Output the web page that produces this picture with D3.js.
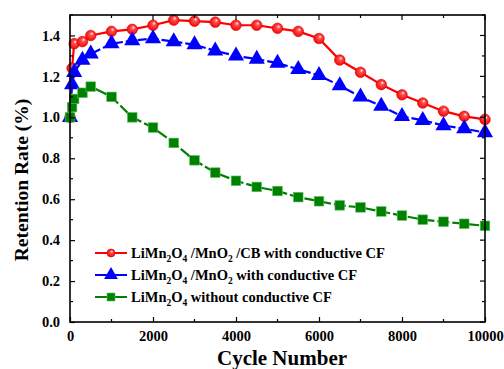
<!DOCTYPE html>
<html>
<head lang="en">
    <meta charset="UTF-8">
    <script src="https://cdn.jsdelivr.net/npm/d3@7/dist/d3.min.js"></script>
    <style>
        body { margin: 0; background: #fff; }
    </style>
</head>
<body>
<div id="chart"></div>
<script>
    // cycle numbers + retention values
    var cbCycles  = [0, 50, 100, 300, 500, 1000, 1500, 2000, 2500, 3000, 3500, 4000, 4500, 5000, 5500, 6000, 6500, 7000, 7500, 8000, 8500, 9000, 9500, 10000];
    var cbValues  = [1.0, 1.24, 1.36, 1.37, 1.40, 1.42, 1.43, 1.45, 1.475, 1.47, 1.465, 1.45, 1.45, 1.435, 1.42, 1.385, 1.28, 1.22, 1.16, 1.11, 1.07, 1.03, 1.005, 0.99];
    var mnCycles  = [0, 50, 100, 300, 500, 1000, 1500, 2000, 2500, 3000, 3500, 4000, 4500, 5000, 5500, 6000, 6500, 7000, 7500, 8000, 8500, 9000, 9500, 10000];
    var mnValues  = [1.0, 1.16, 1.22, 1.28, 1.31, 1.36, 1.375, 1.385, 1.37, 1.355, 1.325, 1.30, 1.285, 1.265, 1.235, 1.205, 1.155, 1.10, 1.055, 1.005, 0.985, 0.96, 0.945, 0.925];
    var rawCycles = [0, 50, 100, 300, 500, 1000, 1500, 2000, 2500, 3000, 3500, 4000, 4500, 5000, 5500, 6000, 6500, 7000, 7500, 8000, 8500, 9000, 9500, 10000];
    var rawValues = [1.0, 1.05, 1.09, 1.12, 1.15, 1.10, 1.00, 0.95, 0.875, 0.79, 0.73, 0.69, 0.66, 0.64, 0.61, 0.59, 0.57, 0.56, 0.54, 0.52, 0.50, 0.49, 0.48, 0.47];

    var xTicks = [0, 2000, 4000, 6000, 8000, 10000];
    var yTicks = [0.0, 0.2, 0.4, 0.6, 0.8, 1.0, 1.2, 1.4];

    var W = 504, H = 369;
    var margin = {left: 70, right: 19, top: 15, bottom: 47};
    var FONT = "'Liberation Serif', 'Times New Roman', serif";

    var svg = d3.select("#chart").append("svg").attr("width", W).attr("height", H)
        .attr("font-family", FONT).attr("font-weight", "bold");

    var defs = svg.append("defs");
    var grad = defs.append("radialGradient").attr("id", "ball")
        .attr("cx", "50%").attr("cy", "50%").attr("r", "55%")
        .attr("fx", "62%").attr("fy", "30%");
    grad.append("stop").attr("offset", "0%").attr("stop-color", "#ffffff");
    grad.append("stop").attr("offset", "30%").attr("stop-color", "#ff5050");
    grad.append("stop").attr("offset", "100%").attr("stop-color", "#f00000");

    var x = d3.scaleLinear().domain([0, 10000]).range([margin.left, W - margin.right]);
    var y = d3.scaleLinear().domain([0, 1.5]).range([H - margin.bottom, margin.top]);

    var series = [
        {cycles: cbCycles, values: cbValues, color: "#ff0000", marker: "circle", dash: null,
            label: [["LiMn", ""], ["2", "sub"], ["O", ""], ["4", "sub"], [" /MnO", ""], ["2", "sub"], [" /CB with conductive CF", ""]]},
        {cycles: mnCycles, values: mnValues, color: "#0000ff", marker: "triangle", dash: "9,3",
            label: [["LiMn", ""], ["2", "sub"], ["O", ""], ["4", "sub"], [" /MnO", ""], ["2", "sub"], [" with conductive CF", ""]]},
        {cycles: rawCycles, values: rawValues, color: "#008000", marker: "square", dash: "12,3",
            label: [["LiMn", ""], ["2", "sub"], ["O", ""], ["4", "sub"], [" without conductive CF", ""]]}
    ];

    function drawMarker(sel, type, color, s) {
        if (type === "circle") {
            sel.append("circle").attr("r", s).attr("fill", "url(#ball)")
                .attr("stroke", "#e00000").attr("stroke-width", 0.6);
        } else if (type === "triangle") {
            sel.append("path").attr("d", d3.symbol().type(d3.symbolTriangle).size(s * s * 2.3))
                .attr("fill", color);
        } else {
            sel.append("rect").attr("x", -s).attr("y", -s).attr("width", 2 * s).attr("height", 2 * s)
                .attr("fill", color).attr("stroke", "#5fbf5f").attr("stroke-width", 0.6);
        }
    }

    var line = d3.line().x(function(d) { return x(d[0]); }).y(function(d) { return y(d[1]); });

    // red first, green last (green sits on top at the start)
    var sizes = {circle: 5.3, triangle: 7, square: 4.8};
    series.forEach(function(s) {
        var pts = s.cycles.map(function(c, i) { return [c, s.values[i]]; });
        svg.append("path").datum(pts).attr("d", line)
            .attr("fill", "none").attr("stroke", s.color).attr("stroke-width", 2.2)
            .attr("stroke-dasharray", s.dash);
        svg.append("g").selectAll("g").data(pts).enter().append("g")
            .attr("transform", function(d) { return "translate(" + x(d[0]) + "," + y(d[1]) + ")"; })
            .each(function() { drawMarker(d3.select(this), s.marker, s.color, sizes[s.marker]); });
    });

    // frame
    var x0 = margin.left, x1 = W - margin.right, y0 = H - margin.bottom, y1 = margin.top;
    svg.append("rect").attr("x", x0).attr("y", y1).attr("width", x1 - x0).attr("height", y0 - y1)
        .attr("fill", "none").attr("stroke", "#000").attr("stroke-width", 1.6);

    // axes with inward ticks
    var xAxis = d3.axisBottom(x).tickValues(xTicks).tickSize(-5).tickPadding(9)
        .tickFormat(d3.format("d"));
    var xg = svg.append("g").attr("transform", "translate(0," + y0 + ")").call(xAxis);
    var yAxis = d3.axisLeft(y).tickValues(yTicks).tickSize(-5).tickPadding(10)
        .tickFormat(d3.format(".1f"));
    var yg = svg.append("g").attr("transform", "translate(" + x0 + ",0)").call(yAxis);
    [xg, yg].forEach(function(g) {
        g.attr("font-family", FONT).attr("font-size", 14.5).attr("font-weight", "bold");
        g.select(".domain").remove();
        g.selectAll("line").attr("stroke", "#000").attr("stroke-width", 1.2);
        g.selectAll("text").attr("fill", "#000");
    });

    // minor ticks + mirrored ticks on top/right
    var tickG = svg.append("g").attr("stroke", "#000").attr("stroke-width", 1.2);
    d3.range(0, 10001, 1000).forEach(function(v) {
        var len = (v % 2000 === 0) ? 5 : 3;
        if (v % 2000 !== 0) tickG.append("line").attr("x1", x(v)).attr("x2", x(v)).attr("y1", y0).attr("y2", y0 - len);
        tickG.append("line").attr("x1", x(v)).attr("x2", x(v)).attr("y1", y1).attr("y2", y1 + len);
    });
    d3.range(0, 16).forEach(function(k) {
        var v = k / 10, len = (k % 2 === 0) ? 5 : 3;
        if (k % 2 !== 0) tickG.append("line").attr("x1", x0).attr("x2", x0 + len).attr("y1", y(v)).attr("y2", y(v));
        tickG.append("line").attr("x1", x1).attr("x2", x1 - len).attr("y1", y(v)).attr("y2", y(v));
    });

    // axis titles
    svg.append("text").attr("x", 282).attr("y", 365).attr("text-anchor", "middle")
        .attr("font-size", 21).text("Cycle Number");
    svg.append("text").attr("transform", "translate(28,180) rotate(-90)")
        .attr("text-anchor", "middle").attr("font-size", 19.5).text("Retention Rate (%)");

    // legend
    var legend = svg.append("g").attr("transform", "translate(95,253)");
    series.forEach(function(s, i) {
        var row = legend.append("g").attr("transform", "translate(0," + (i * 22) + ")");
        row.append("line").attr("x1", 0).attr("x2", 32).attr("stroke", s.color).attr("stroke-width", 2);
        var m = row.append("g").attr("transform", "translate(16,0)");
        drawMarker(m, s.marker, s.color, s.marker === "circle" ? 4 : (s.marker === "triangle" ? 6 : 4));
        var t = row.append("text").attr("x", 36).attr("y", 5).attr("font-size", 14.5);
        s.label.forEach(function(p, j) {
            var ts = t.append("tspan").text(p[0]);
            if (p[1] === "sub") ts.attr("font-size", 9.5).attr("dy", 4);
            else if (j > 0 && s.label[j - 1][1] === "sub") ts.attr("dy", -4);
        });
    });
</script>
</body>
</html>
